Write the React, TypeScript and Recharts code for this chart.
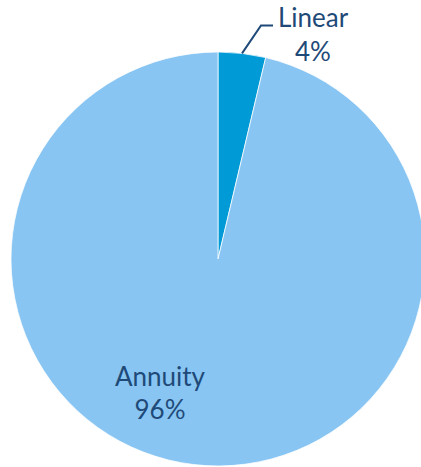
import { PieChart, Pie, Cell } from "recharts";

const names = ["Linear", "Annuity"];
const values = [3.7, 96.3];
const colors = ["#009ad6", "#88c5f2"];

const data = names.map((name, i) => ({ name, value: values[i] }));

const RAD = Math.PI / 180;
const textColor = "#1f4a78";

function renderLabel(props: any) {
  const { cx, cy, midAngle, outerRadius, percent, name, index } = props;
  const pct = `${Math.round(percent * 100)}%`;
  if (index === 0) {
    // leader line from the slice edge up to the label
    const sx = cx + outerRadius * Math.cos(-midAngle * RAD);
    const sy = cy + outerRadius * Math.sin(-midAngle * RAD);
    const ex = sx + 19;
    const ey = sy - 28;
    return (
      <g>
        <polyline points={`${sx},${sy} ${ex},${ey} ${ex + 12},${ey}`} fill="none" stroke={textColor} strokeWidth={2} />
        <text x={ex + 52} y={ey + 2} textAnchor="middle" fill={textColor} fontSize={26}>
          {name}
        </text>
        <text x={ex + 52} y={ey + 36} textAnchor="middle" fill={textColor} fontSize={26}>
          {pct}
        </text>
      </g>
    );
  }
  return (
    <g>
      <text x={cx - 58} y={cy + 127} textAnchor="middle" fill={textColor} fontSize={26}>
        {name}
      </text>
      <text x={cx - 58} y={cy + 160} textAnchor="middle" fill={textColor} fontSize={26}>
        {pct}
      </text>
    </g>
  );
}

export default function App() {
  return (
    <div style={{ position: "absolute", left: 0, top: 0, fontFamily: "Lato, sans-serif" }}>
      <PieChart width={421} height={467} margin={{ top: 0, right: 0, bottom: 0, left: 0 }}>
        <Pie
          data={data}
          dataKey="value"
          nameKey="name"
          cx={218}
          cy={259}
          outerRadius={207}
          startAngle={90}
          endAngle={-270}
          stroke="#ffffff"
          strokeWidth={0.75}
          label={renderLabel}
          labelLine={false}
          isAnimationActive={false}
        >
          {data.map((_, i) => (
            <Cell key={i} fill={colors[i]} />
          ))}
        </Pie>
      </PieChart>
    </div>
  );
}
